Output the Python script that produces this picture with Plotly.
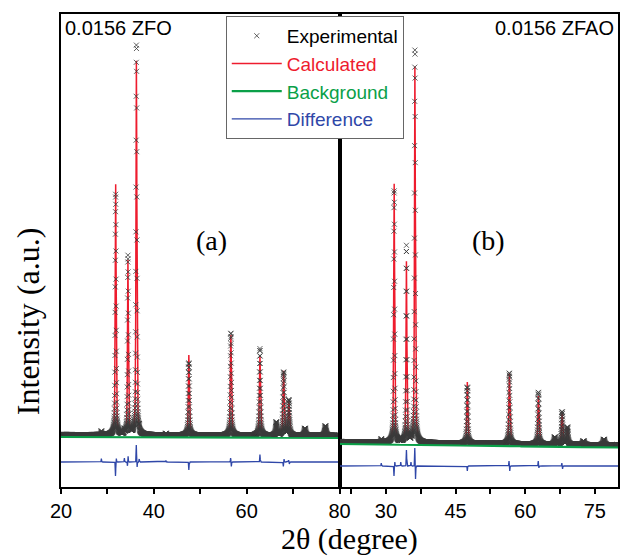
import numpy as np
import plotly.graph_objects as go
from plotly.subplots import make_subplots

# ---- 2-theta grid (degrees) ----
theta_start, theta_stop, theta_step = 20.0, 80.0, 0.02

# ---- Bragg reflections (2-theta positions, deg) shared by both samples ----
peak_pos = [31.77, 34.42, 36.25, 47.54, 56.60, 62.86, 66.38, 67.96, 69.10, 72.56, 76.96]
peak_fwhm = [0.22, 0.22, 0.23, 0.25, 0.27, 0.28, 0.30, 0.30, 0.30, 0.32, 0.34]

# ---- (a) 0.0156 ZFO : refined peak heights (counts above background) ----
calc_height_a = [2520, 1740, 3760, 800, 1000, 790, 130, 640, 340, 70, 95]
bg_a_start, bg_a_end = 500, 490            # background level at 20 and 80 deg
diffuse_a = 25                             # diffuse level above background
diff_offset_a = 250                        # vertical offset of difference curve
resid_pos_a = [28.7, 31.74, 31.92, 33.65, 34.32, 34.45, 36.22, 36.40, 36.85, 42.6, 47.54, 56.55, 56.70, 62.86, 67.90, 68.05, 69.05, 69.20]
resid_amp_a = [35, -140, 35, 40, -40, 60, 170, -50, 30, 15, -80, 40, -45, 75, -45, 30, 20, -20]

# ---- (b) 0.0156 ZFAO ----
calc_height_b = [2600, 1800, 3780, 610, 700, 480, 70, 310, 170, 35, 55]
bg_b_start, bg_b_end = 430, 395
diffuse_b = 25
diff_offset_b = 210
resid_pos_b = [29.0, 31.74, 31.92, 33.2, 34.42, 35.4, 36.22, 36.38, 47.54, 56.52, 56.68, 62.82, 62.95, 67.90, 68.05]
resid_amp_b = [30, -100, 40, 40, 160, 40, 180, -130, -50, 50, -50, 50, -20, 30, -30]

# ---- colours ----
col_exp = "#3a3a3a"
col_calc = "#ee1c2e"
col_bg = "#0aa048"
col_diff = "#2f47a8"


def pseudo_voigt(x, pos, height, fwhm, eta=0.55):
    hw = fwhm / 2.0
    u = (x - pos) / hw
    return height * (eta / (1.0 + u ** 2) + (1.0 - eta) * np.exp(-np.log(2.0) * u ** 2))


def pattern(x, heights, bg_start, bg_end, diffuse, rpos, ramp):
    background = bg_start + (bg_end - bg_start) * (x - theta_start) / (theta_stop - theta_start)
    calc = background + diffuse
    for p, h, w in zip(peak_pos, heights, peak_fwhm):
        calc = calc + pseudo_voigt(x, p, h, w)
    resid = np.zeros_like(x)
    for p, a in zip(rpos, ramp):
        resid = resid + a * np.exp(-0.5 * ((x - p) / 0.05) ** 2)
    observed = calc + resid
    return observed, calc, background, resid


tt = np.round(np.arange(theta_start, theta_stop + theta_step / 2, theta_step), 4)
obs_a, calc_a, bgd_a, res_a = pattern(tt, calc_height_a, bg_a_start, bg_a_end, diffuse_a, resid_pos_a, resid_amp_a)
obs_b, calc_b, bgd_b, res_b = pattern(tt, calc_height_b, bg_b_start, bg_b_end, diffuse_b, resid_pos_b, resid_amp_b)

fig = make_subplots(rows=1, cols=2, horizontal_spacing=0)


def add_panel(col, obs, calc, bgd, res, offset, show):
    fig.add_trace(go.Scatter(x=tt, y=calc, mode="lines", name=f"<span style='color:{col_calc}'>Calculated</span>",
                             line=dict(color=col_calc, width=1.5), showlegend=show, legendrank=2), row=1, col=col)
    fig.add_trace(go.Scatter(x=tt, y=obs, mode="markers", name="Experimental",
                             marker=dict(symbol="x-thin", size=5, color=col_exp,
                                         line=dict(width=0.8, color=col_exp)),
                             showlegend=show, legendrank=1), row=1, col=col)
    fig.add_trace(go.Scatter(x=tt, y=bgd, mode="lines", name=f"<span style='color:{col_bg}'>Background</span>",
                             line=dict(color=col_bg, width=2.2), showlegend=show, legendrank=3), row=1, col=col)
    fig.add_trace(go.Scatter(x=tt, y=res + offset, mode="lines", name=f"<span style='color:{col_diff}'>Difference</span>",
                             line=dict(color=col_diff, width=1.3), showlegend=show, legendrank=4), row=1, col=col)


add_panel(1, obs_a, calc_a, bgd_a, res_a, diff_offset_a, True)
add_panel(2, obs_b, calc_b, bgd_b, res_b, diff_offset_b, False)

tick_font = dict(family="Liberation Sans, Arial, sans-serif", size=20, color="black")
axis_common = dict(range=[20, 80], showline=True, linewidth=2, linecolor="black", mirror=True,
                   ticks="outside", ticklen=5, tickwidth=1.5, tickcolor="black",
                   showgrid=False, zeroline=False, tickfont=tick_font)
fig.update_xaxes(**axis_common, tickvals=[20, 40, 60, 80],
                 minor=dict(tickvals=[30, 50, 70], ticks="outside", ticklen=5, tickwidth=1.5, tickcolor="black"),
                 row=1, col=1)
fig.update_xaxes(**axis_common, tickvals=[30, 45, 60, 75],
                 minor=dict(tickvals=[22.5, 37.5, 52.5, 67.5], ticks="outside", ticklen=5, tickwidth=1.5, tickcolor="black"),
                 row=1, col=2)
fig.update_yaxes(range=[0, 4730], showticklabels=False, ticks="", showline=True, linewidth=2,
                 linecolor="black", mirror=True, showgrid=False, zeroline=False)
fig.update_yaxes(matches="y", row=1, col=2)

serif = "Liberation Serif, Times New Roman, serif"
sans = "Liberation Sans, Arial, sans-serif"
fig.update_layout(
    width=630, height=559,
    margin=dict(l=61, r=1, t=14, b=72),
    plot_bgcolor="white", paper_bgcolor="white",
    legend=dict(x=0.2958, y=0.996, xanchor="left", yanchor="top", bgcolor="white",
                bordercolor="#666666", borderwidth=1, font=dict(family=sans, size=19, color="black"),
                itemwidth=50, tracegroupgap=0),
    annotations=[
        dict(text="0.0156 ZFO", xref="paper", yref="paper", x=0.003, y=0.970, xanchor="left", yanchor="middle",
             showarrow=False, font=dict(family=sans, size=20, color="black")),
        dict(text="0.0156 ZFAO", xref="paper", yref="paper", x=0.997, y=0.970, xanchor="right", yanchor="middle",
             showarrow=False, font=dict(family=sans, size=20, color="black")),
        dict(text="(a)", xref="paper", yref="paper", x=0.271, y=0.522, xanchor="center", yanchor="middle",
             showarrow=False, font=dict(family=serif, size=28, color="black")),
        dict(text="(b)", xref="paper", yref="paper", x=0.768, y=0.522, xanchor="center", yanchor="middle",
             showarrow=False, font=dict(family=serif, size=28, color="black")),
        dict(text="2θ (degree)", xref="paper", yref="paper", x=0.518, y=-0.110, xanchor="center", yanchor="middle",
             showarrow=False, font=dict(family=serif, size=30, color="black")),
        dict(text="Intensity (a.u.)", xref="paper", yref="paper", x=-0.058, y=0.35, xanchor="center", yanchor="middle",
             textangle=-90, showarrow=False, font=dict(family=serif, size=32, color="black")),
    ],
)

fig.write_html("out.html")
